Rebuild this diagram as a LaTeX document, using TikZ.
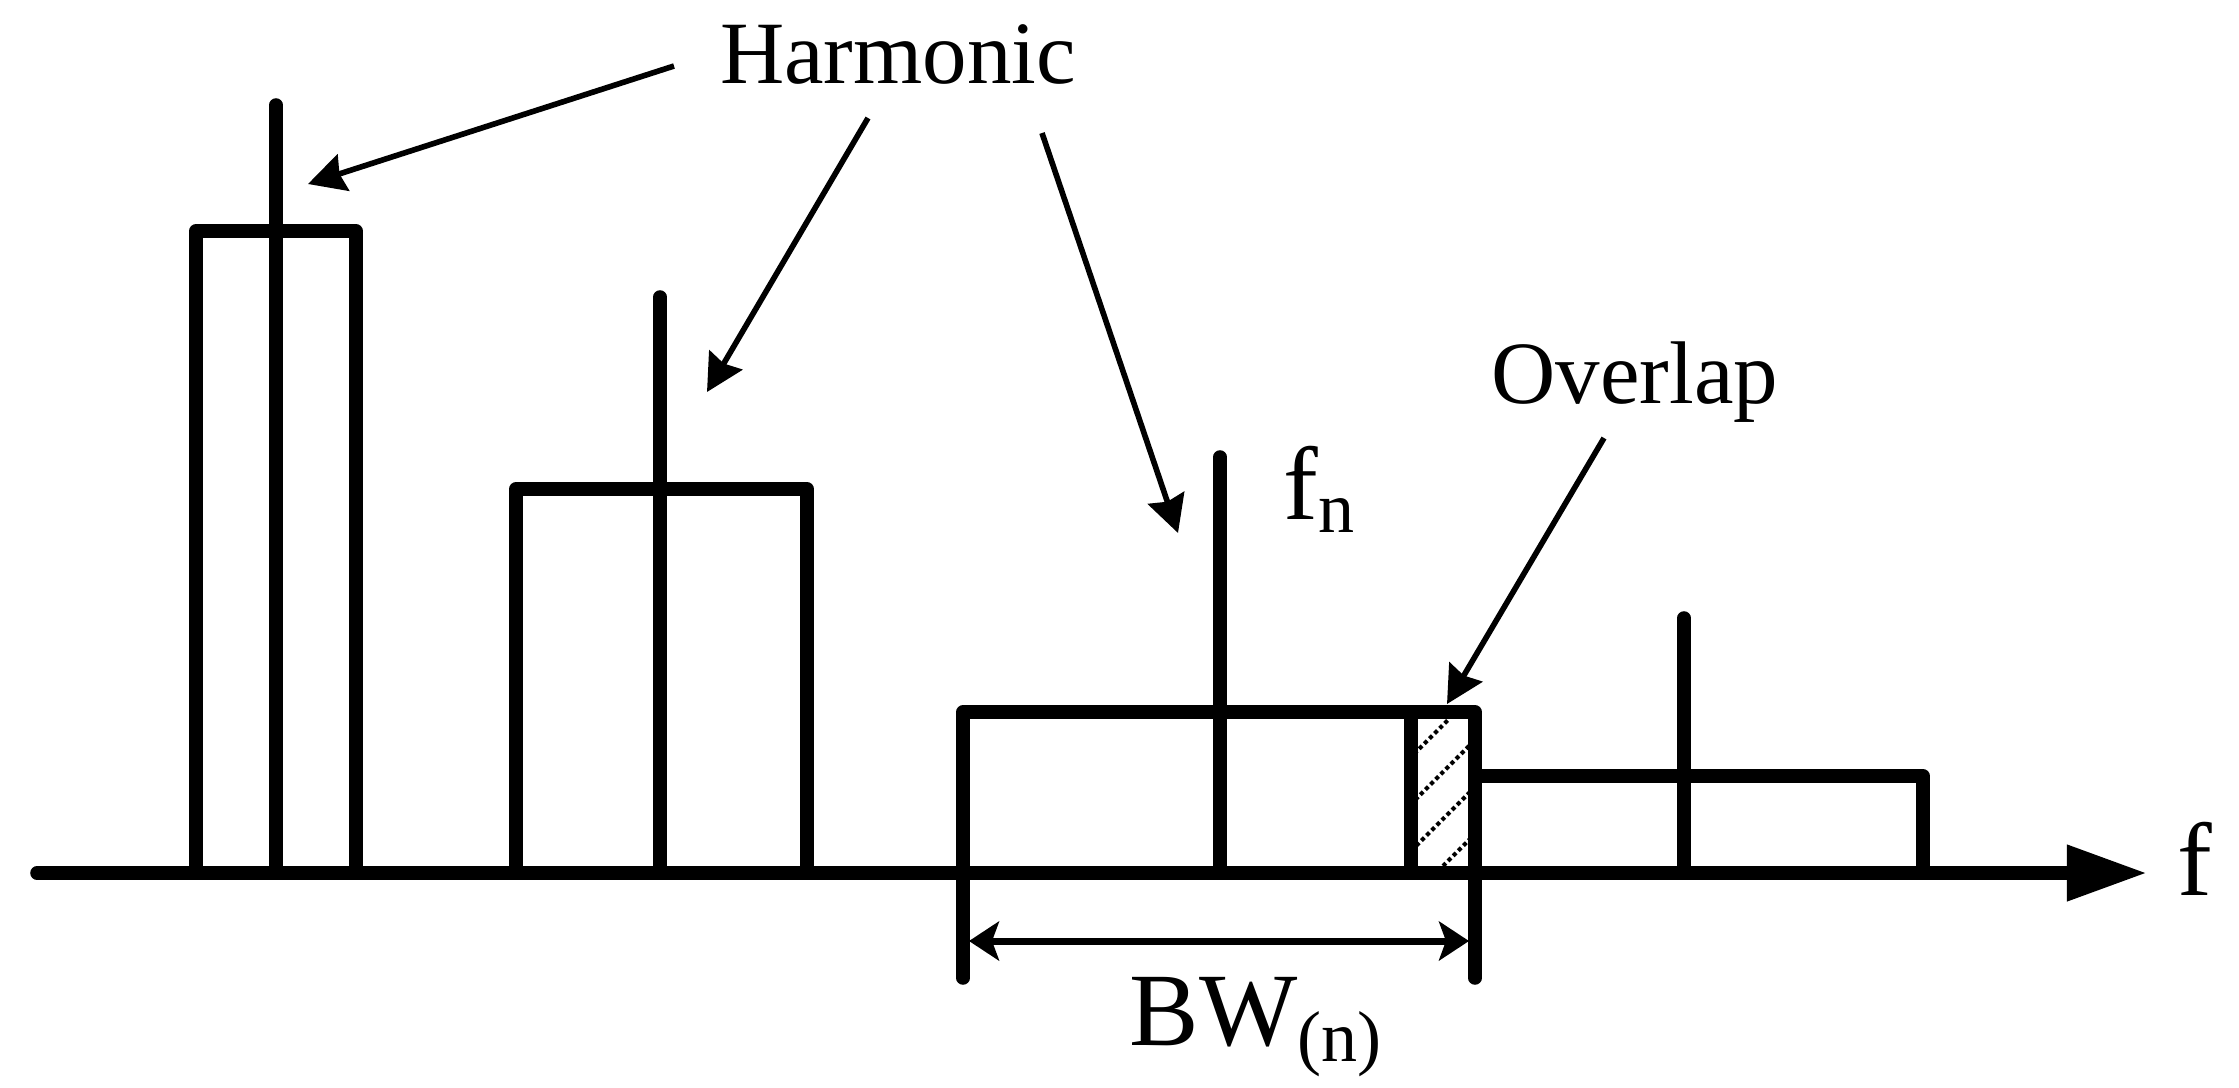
\documentclass[tikz,border=0pt]{standalone}
\usepackage{fontspec}
\setmainfont{Liberation Serif}
\usetikzlibrary{arrows.meta}
\begin{document}
\begin{tikzpicture}[x=0.01cm,y=-0.01cm,
  heavy/.style={line width=3.85pt,line cap=round,line join=round},
  callout/.style={line width=1.6pt,-{Stealth[length=0.37cm,width=0.38cm,inset=0.04cm]}},
  bwtip/.style={line width=2pt,{Stealth[length=0.3cm,width=0.39cm,inset=0.07cm]}-{Stealth[length=0.3cm,width=0.39cm,inset=0.07cm]}},
  lbl/.style={inner sep=0pt,font=\fontsize{25.3pt}{30pt}\selectfont},
  biglbl/.style={inner sep=0pt,font=\fontsize{29.6pt}{34pt}\selectfont},
  hatch/.style={line width=1.15pt,dash pattern=on 1.15pt off 0.9pt}]
\useasboundingbox (0,0) rectangle (2239,1087);

% axis
\coordinate (ax0) at (37,873);
\coordinate (ax1) at (2147,873);
\draw[heavy,-{Triangle[length=0.8cm,width=0.53cm]}] (ax0) -- (ax1);

% box 1
\draw[heavy] (196,873) |- (356,231) -- (356,873);
\draw[heavy] (276,105) -- (276,873);
% box 2
\draw[heavy] (516,873) |- (807,489) -- (807,873);
\draw[heavy] (660,297) -- (660,873);
% box 3
\draw[heavy] (963,978) |- (1475,712) -- (1475,978);
\draw[heavy] (1220,457) -- (1220,873);
% overlap
\draw[heavy] (1411,712) -- (1411,873);
\begin{scope}
\clip (1418,719) rectangle (1469,866);
\foreach \c in {2168,2215,2262,2309}
  \draw[hatch] ({\c-866},866) -- ({\c-719},719);
\end{scope}
% box 4
\draw[heavy] (1475,776) -| (1923,873);
\draw[heavy] (1684,618) -- (1684,873);

% labels
\node[lbl,anchor=base] (harm) at (898,83) {Harmonic};
\node[lbl,anchor=base] (ovl) at (1635,403) {Overlap};
\node[biglbl,anchor=base] (flbl) at (2195,895) {f};
\node[biglbl,anchor=base west] (fnlbl) at (1283,519) {f\raisebox{-0.13cm}{\fontsize{20.5pt}{24pt}\selectfont n}};
\node[biglbl,anchor=base west] (bwlbl) at (1129,1045) {BW\raisebox{-0.16cm}{\fontsize{20.5pt}{24pt}\selectfont (n)}};

% callouts
\coordinate (h1s) at (674,66);   \coordinate (h1e) at (308,184);
\coordinate (h2s) at (868,118);  \coordinate (h2e) at (707,392);
\coordinate (h3s) at (1042,133); \coordinate (h3e) at (1178,533);
\coordinate (os) at (1604,438);  \coordinate (oe) at (1447,704);
\draw[callout] (h1s) -- (h1e);
\draw[callout] (h2s) -- (h2e);
\draw[callout] (h3s) -- (h3e);
\draw[callout] (os) -- (oe);

% bandwidth
\coordinate (bwl) at (969,941);
\coordinate (bwr) at (1469,941);
\draw[bwtip] (bwl) -- (bwr);
\end{tikzpicture}
\end{document}
